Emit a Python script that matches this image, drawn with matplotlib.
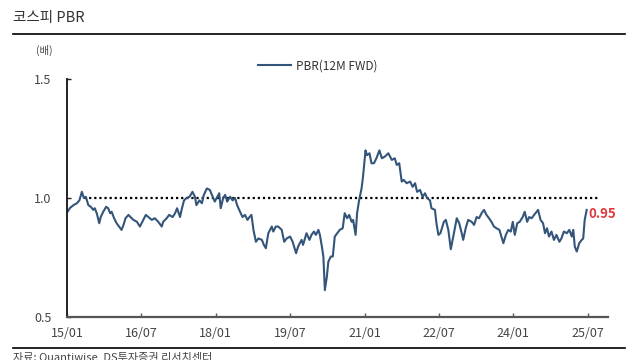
import matplotlib
matplotlib.use("Agg")
import matplotlib.pyplot as plt
from matplotlib.lines import Line2D

plt.rcParams['font.family'] = ['Noto Sans CJK KR', 'DejaVu Sans']

title = "코스피 PBR"
unit_label = "(배)"
source = "자료: Quantiwise, DS투자증권 리서치센터"
series_name = "PBR(12M FWD)"
last_label = "0.95"
ref_level = 1.0
ref_start, ref_end = 2015.34, 2025.71

tick_pos = [2015.0, 2016.5, 2018.0, 2019.5, 2021.0, 2022.5, 2024.0, 2025.5]
tick_labels = ["15/01", "16/07", "18/01", "19/07", "21/01", "22/07", "24/01", "25/07"]
y_ticks = [0.5, 1.0, 1.5]

# time in decimal years
date_years = [
    2015.01, 2015.06, 2015.13, 2015.20, 2015.25, 2015.30, 2015.34, 2015.38, 2015.43, 2015.48,
    2015.53, 2015.56, 2015.60, 2015.65, 2015.68, 2015.73, 2015.79, 2015.83, 2015.87, 2015.90,
    2015.95, 2016.00, 2016.05, 2016.10, 2016.14, 2016.18, 2016.24, 2016.28, 2016.34, 2016.41,
    2016.47, 2016.54, 2016.59, 2016.64, 2016.71, 2016.77, 2016.84, 2016.91, 2016.94, 2017.01,
    2017.06, 2017.13, 2017.18, 2017.22, 2017.28, 2017.31, 2017.36, 2017.41, 2017.47, 2017.53,
    2017.58, 2017.61, 2017.67, 2017.72, 2017.76, 2017.82, 2017.88, 2017.94, 2017.98, 2018.03,
    2018.07, 2018.10, 2018.15, 2018.19, 2018.23, 2018.29, 2018.34, 2018.39, 2018.43, 2018.49,
    2018.54, 2018.59, 2018.64, 2018.68, 2018.72, 2018.76, 2018.81, 2018.86, 2018.93, 2018.97,
    2019.01, 2019.06, 2019.13, 2019.16, 2019.21, 2019.26, 2019.33, 2019.38, 2019.43, 2019.50,
    2019.55, 2019.62, 2019.66, 2019.73, 2019.76, 2019.83, 2019.89, 2019.93, 2019.98, 2020.02,
    2020.07, 2020.10, 2020.14, 2020.17, 2020.20, 2020.24, 2020.27, 2020.32, 2020.36, 2020.40,
    2020.45, 2020.50, 2020.56, 2020.60, 2020.65, 2020.69, 2020.74, 2020.77, 2020.82, 2020.85,
    2020.89, 2020.94, 2020.97, 2021.02, 2021.05, 2021.10, 2021.14, 2021.19, 2021.24, 2021.30,
    2021.35, 2021.41, 2021.48, 2021.55, 2021.61, 2021.65, 2021.70, 2021.75, 2021.79, 2021.85,
    2021.92, 2021.97, 2022.02, 2022.06, 2022.12, 2022.17, 2022.22, 2022.26, 2022.32, 2022.35,
    2022.42, 2022.45, 2022.49, 2022.53, 2022.60, 2022.64, 2022.69, 2022.74, 2022.79, 2022.86,
    2022.91, 2022.96, 2022.99, 2023.04, 2023.09, 2023.16, 2023.21, 2023.26, 2023.31, 2023.36,
    2023.41, 2023.46, 2023.51, 2023.56, 2023.61, 2023.66, 2023.72, 2023.76, 2023.80, 2023.85,
    2023.90, 2023.95, 2023.99, 2024.03, 2024.08, 2024.13, 2024.19, 2024.23, 2024.28, 2024.32,
    2024.37, 2024.42, 2024.47, 2024.50, 2024.55, 2024.60, 2024.64, 2024.68, 2024.72, 2024.77,
    2024.82, 2024.87, 2024.93, 2024.97, 2025.02, 2025.08, 2025.13, 2025.18, 2025.21, 2025.24,
    2025.28, 2025.33, 2025.38, 2025.41, 2025.44, 2025.48,
]

pbr = [
    0.942, 0.958, 0.970, 0.978, 0.990, 1.026, 1.000, 1.005, 0.970, 0.963,
    0.950, 0.957, 0.936, 0.894, 0.920, 0.942, 0.963, 0.957, 0.936, 0.942,
    0.915, 0.894, 0.880, 0.866, 0.887, 0.915, 0.929, 0.920, 0.908, 0.900,
    0.880, 0.908, 0.929, 0.920, 0.908, 0.915, 0.900, 0.880, 0.900, 0.915,
    0.929, 0.920, 0.936, 0.957, 0.920, 0.950, 0.990, 1.000, 1.005, 1.026,
    1.005, 0.970, 0.990, 0.978, 1.013, 1.040, 1.034, 1.005, 0.985, 1.005,
    1.020, 0.957, 1.000, 1.013, 0.985, 1.005, 0.990, 1.000, 0.970, 0.942,
    0.920, 0.929, 0.908, 0.920, 0.929, 0.866, 0.816, 0.830, 0.824, 0.803,
    0.789, 0.852, 0.880, 0.859, 0.880, 0.880, 0.866, 0.816, 0.830, 0.838,
    0.816, 0.768, 0.796, 0.824, 0.803, 0.852, 0.824, 0.845, 0.859, 0.845,
    0.866, 0.845, 0.796, 0.754, 0.613, 0.669, 0.732, 0.754, 0.754, 0.838,
    0.852, 0.866, 0.873, 0.936, 0.915, 0.929, 0.900, 0.908, 0.845, 0.936,
    0.990, 1.040, 1.090, 1.200, 1.180, 1.188, 1.146, 1.146, 1.167, 1.200,
    1.167, 1.174, 1.188, 1.160, 1.167, 1.139, 1.146, 1.069, 1.076, 1.062,
    1.069, 1.047, 1.062, 1.026, 1.034, 1.005, 1.020, 1.000, 0.990, 0.957,
    0.950, 0.894, 0.845, 0.852, 0.900, 0.908, 0.866, 0.785, 0.838, 0.915,
    0.894, 0.852, 0.824, 0.873, 0.908, 0.900, 0.887, 0.920, 0.915, 0.936,
    0.950, 0.929, 0.915, 0.900, 0.880, 0.873, 0.866, 0.838, 0.810, 0.845,
    0.866, 0.859, 0.900, 0.845, 0.894, 0.900, 0.920, 0.942, 0.900, 0.920,
    0.915, 0.929, 0.942, 0.950, 0.908, 0.894, 0.852, 0.873, 0.838, 0.859,
    0.824, 0.845, 0.816, 0.830, 0.859, 0.852, 0.866, 0.838, 0.866, 0.796,
    0.775, 0.810, 0.824, 0.830, 0.908, 0.950,
]

W, H = 640, 360
fig = plt.figure(figsize=(6.4, 3.6), dpi=100)
ax = fig.add_axes([67 / W, 1 - 317 / H, (608 - 67) / W, (317 - 79) / H])

line_color = '#34557A'
ax.plot([ref_start, ref_end], [ref_level, ref_level], color='black',
        linestyle=(0, (1, 1.3)), linewidth=1.6, zorder=1)
ax.plot(date_years, pbr, color=line_color, linewidth=1.5, zorder=2)

ax.annotate(last_label, xy=(date_years[-1], pbr[-1]), xytext=(1, -3),
            textcoords='offset points', ha='left', va='center',
            color='#E0393E', fontsize=9.5, fontweight='bold')

ax.set_xlim(2015.0, 2025.91)
ax.set_ylim(0.5, 1.5)
ax.set_xticks(tick_pos)
ax.set_xticklabels(tick_labels)
ax.set_yticks(y_ticks)
ax.set_yticklabels([f"{v:.1f}" for v in y_ticks])

for s in ['top', 'right']:
    ax.spines[s].set_visible(False)
ax.spines['left'].set_color('#222222')
ax.spines['bottom'].set_color('#555555')
ax.spines['left'].set_linewidth(1.4)
ax.spines['bottom'].set_linewidth(1.6)
ax.tick_params(axis='x', direction='in', length=3, width=1, colors='#555555',
               labelcolor='#444444', labelsize=9, pad=7)
ax.tick_params(axis='y', direction='in', length=3, width=1, colors='#222222',
               labelcolor='#444444', labelsize=9, pad=11)

handle = Line2D([], [], color=line_color, linewidth=1.5)
fig.legend([handle], [series_name], loc='center left',
           bbox_to_anchor=(258 / W, 1 - 66 / H), frameon=False, fontsize=8.5,
           handlelength=2.8, handletextpad=0.4, borderpad=0, borderaxespad=0,
           labelcolor='#333333')

fig.text(13 / W, 1 - 18 / H, title, ha='left', va='center', fontsize=10.5, color='#333333')
fig.add_artist(Line2D([13 / W, 625 / W], [1 - 34 / H, 1 - 34 / H], color='black', linewidth=1.2))
fig.text(36 / W, 1 - 50 / H, unit_label, ha='left', va='center', fontsize=7.5, color='#444444')
fig.add_artist(Line2D([13 / W, 625 / W], [1 - 348 / H, 1 - 348 / H], color='black', linewidth=1.2))
fig.text(13 / W, 1 - 352 / H, source, ha='left', va='top', fontsize=8, color='#444444')

fig.savefig('out.png', dpi=100)
